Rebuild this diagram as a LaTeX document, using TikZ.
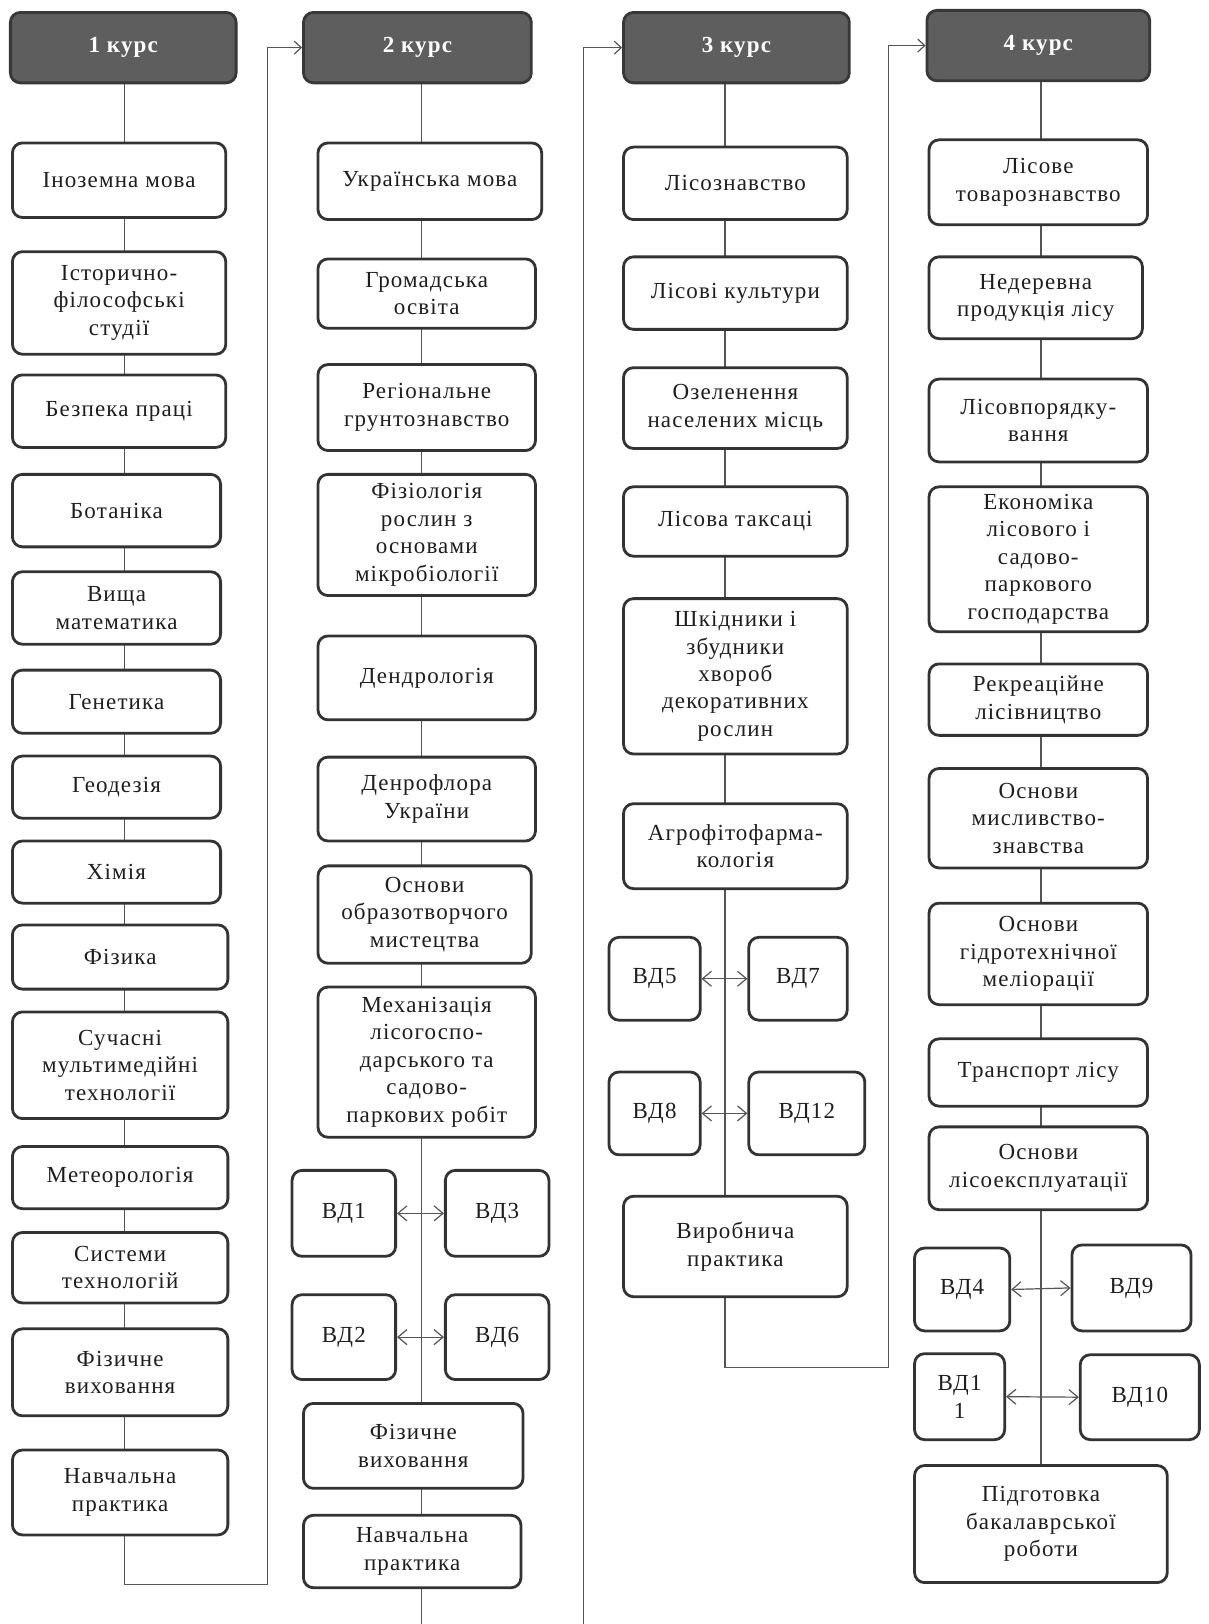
\documentclass[tikz,border=0pt]{standalone}
\usepackage{fontspec}
\setmainfont{Liberation Serif}[LetterSpace=5]
\usetikzlibrary{arrows.meta,backgrounds}
\definecolor{bord}{HTML}{333333}
\definecolor{lnc}{HTML}{555555}
\definecolor{hfill}{HTML}{5E5E5E}
\definecolor{hbord}{HTML}{383838}
\definecolor{txt}{HTML}{1E1E1E}
\newcommand\fs{\fontsize{23pt}{27.5pt}\selectfont}
\newcommand\B[7]{%
  \pgfmathsetmacro\bw{(#5-#3)*1.036}%
  \pgfmathsetmacro\bh{(#6-#4)*1.036}%
  \node[#2, minimum width=\bw pt, minimum height=\bh pt] (#1) at ({(#3+#5)/2},{(#4+#6)/2}) {#7};}
\tikzset{
  subj/.style={draw=bord, line width=2.8pt, rounded corners=10pt, fill=white, align=center, inner sep=1pt, text=txt, font=\fs},
  hdr/.style={subj, fill=hfill, draw=hbord, text=white, font=\fs\bfseries},
  conn/.style={draw=lnc, line width=1.2pt},
  arr/.style={conn, -{Straight Barb[length=7pt,width=13pt]}},
  dconn/.style={conn, {Straight Barb[length=9pt,width=15pt]}-{Straight Barb[length=9pt,width=15pt]}}
}
\begin{document}
\begin{tikzpicture}[x=1.036pt, y=-1.036pt]
\useasboundingbox (0,0) rectangle (1167,1568);
% column 1
\B{h1}{hdr}{10}{12}{228}{80}{1 курс}
\B{a1}{subj}{12}{138}{218}{210}{Іноземна мова}
\B{a2}{subj}{12}{243}{218}{342}{Історично-\\філософські\\студії}
\B{a3}{subj}{12}{362}{218}{432}{Безпека праці}
\B{a4}{subj}{12}{458}{213}{528}{Ботаніка}
\B{a5}{subj}{12}{552}{213}{622}{Вища\\математика}
\B{a6}{subj}{12}{647}{213}{708}{Генетика}
\B{a7}{subj}{12}{730}{213}{790}{Геодезія}
\B{a8}{subj}{12}{812}{213}{872}{Хімія}
\B{a9}{subj}{12}{893}{220}{955}{Фізика}
\B{a10}{subj}{12}{977}{220}{1080}{Сучасні\\мультимедійні\\технології}
\B{a11}{subj}{12}{1107}{220}{1167}{Метеорологія}
\B{a12}{subj}{12}{1190}{220}{1258}{Системи\\технологій}
\B{a13}{subj}{12}{1283}{220}{1367}{Фізичне\\виховання}
\B{a14}{subj}{12}{1400}{220}{1482}{Навчальна\\практика}
% column 2
\B{h2}{hdr}{293}{12}{513}{80}{2 курс}
\B{b1}{subj}{307}{138}{523}{212}{Українська мова}
\B{b2}{subj}{307}{250}{517}{317}{Громадська\\освіта}
\B{b3}{subj}{307}{352}{517}{435}{Регіональне\\грунтознавство}
\B{b4}{subj}{307}{458}{517}{575}{Фізіологія\\рослин з\\основами\\мікробіології}
\B{b5}{subj}{307}{614}{517}{695}{Дендрологія}
\B{b6}{subj}{307}{731}{517}{812}{Денрофлора\\України}
\B{b7}{subj}{307}{836}{513}{930}{Основи\\образотворчого\\мистецтва}
\B{b8}{subj}{307}{953}{517}{1098}{Механізація\\лісогоспо-\\дарського та\\садово-\\паркових робіт}
\B{v1}{subj}{282}{1130}{382}{1213}{ВД1}
\B{v3}{subj}{430}{1130}{530}{1213}{ВД3}
\B{v2}{subj}{282}{1250}{382}{1332}{ВД2}
\B{v6}{subj}{430}{1250}{530}{1332}{ВД6}
\B{b9}{subj}{293}{1355}{505}{1437}{Фізичне\\виховання}
\B{b10}{subj}{293}{1463}{503}{1533}{Навчальна\\практика}
% column 3
\B{h3}{hdr}{602}{12}{820}{80}{3 курс}
\B{c1}{subj}{602}{142}{818}{212}{Лісознавство}
\B{c2}{subj}{602}{248}{818}{318}{Лісові культури}
\B{c3}{subj}{602}{355}{818}{433}{Озеленення\\населених місць}
\B{c4}{subj}{602}{470}{818}{537}{Лісова таксаці}
\B{c5}{subj}{602}{578}{818}{728}{Шкідники і\\збудники\\хвороб\\декоративних\\рослин}
\B{c6}{subj}{602}{776}{818}{858}{Агрофітофарма-\\кологія}
\B{v5}{subj}{588}{905}{676}{985}{ВД5}
\B{v7}{subj}{723}{905}{818}{985}{ВД7}
\B{v8}{subj}{588}{1035}{676}{1115}{ВД8}
\B{v12}{subj}{723}{1035}{835}{1115}{ВД12}
\B{c7}{subj}{602}{1155}{818}{1252}{Виробнича\\практика}
% column 4
\B{h4}{hdr}{895}{10}{1110}{78}{4 курс}
\B{d1}{subj}{897}{135}{1108}{217}{Лісове\\товарознавство}
\B{d2}{subj}{897}{248}{1103}{327}{Недеревна\\продукція лісу}
\B{d3}{subj}{897}{366}{1108}{446}{Лісовпорядку-\\вання}
\B{d4}{subj}{897}{470}{1108}{610}{Економіка\\лісового і\\садово-\\паркового\\господарства}
\B{d5}{subj}{897}{641}{1108}{710}{Рекреаційне\\лісівництво}
\B{d6}{subj}{897}{742}{1108}{838}{Основи\\мисливство-\\знавства}
\B{d7}{subj}{897}{872}{1108}{970}{Основи\\гідротехнічної\\меліорації}
\B{d8}{subj}{897}{1003}{1108}{1068}{Транспорт лісу}
\B{d9}{subj}{897}{1088}{1108}{1168}{Основи\\лісоексплуатації}
\B{v4}{subj}{883}{1205}{975}{1285}{ВД4}
\B{v9}{subj}{1035}{1202}{1150}{1285}{ВД9}
\B{v11}{subj}{883}{1307}{970}{1390}{ВД1\\1}
\B{v10}{subj}{1043}{1308}{1158}{1390}{ВД10}
\B{d10}{subj}{883}{1415}{1127}{1528}{Підготовка\\бакалаврської\\роботи}
% connector coordinates
\coordinate (s1) at (120,0);
\coordinate (s2) at (407,0);
\coordinate (s3) at (700,0);
\coordinate (s4) at (1005,0);
\coordinate (L1) at (258,1530);
\coordinate (E2) at (407,1568);
\coordinate (L2) at (563,1568);
\coordinate (L3) at (858,1320);
\begin{scope}[on background layer]
\fill[white] (0,0) rectangle (1167,1568);
\draw[arr] (s1 |- h1) -- (s1 |- a14) |- (L1) |- (h2.west);
\draw[conn] (s2 |- h2) -- (E2);
\draw[arr] (L2) |- (h3.west);
\draw[arr] (s3 |- h3) |- (L3) |- (h4.west);
\draw[conn] (s4 |- h4) -- (s4 |- d10);
\end{scope}
\draw[dconn] (v1.east) -- (v3.west);
\draw[dconn] (v2.east) -- (v6.west);
\draw[dconn] (v5.east) -- (v7.west);
\draw[dconn] (v8.east) -- (v12.west);
\draw[dconn] (v4.east) -- (v9.west);
\draw[dconn] (v11.east) -- (v10.west);
\end{tikzpicture}
\end{document}
